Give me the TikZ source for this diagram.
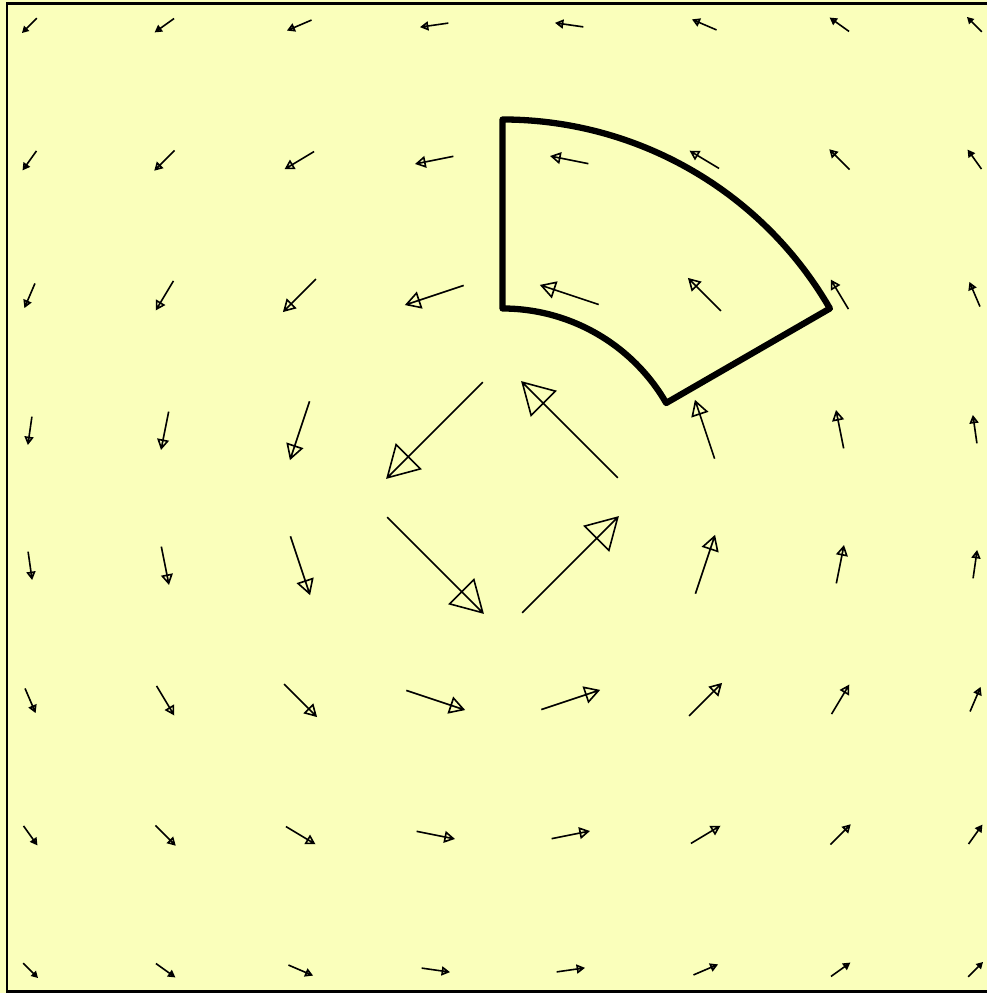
\documentclass[tikz,border=0pt]{standalone}
\definecolor{bg}{RGB}{250,255,187}
\tikzset{arr/.style={line width=1.6pt, line join=miter},
  sector/.style={line width=6.3pt, line join=round},
  frame/.style={line width=2.7pt}}
\begin{document}
\begin{tikzpicture}[x=1pt,y=1pt]
\path[use as bounding box] (0,0) rectangle (987,993);
\clip (0,0) rectangle (987,993);
\fill[bg] (0,0) rectangle (987,993);
\draw[frame] (7,1.5) -- (7,989.5) -- (995,989.5) -- (995,1.5) -- cycle;
\foreach \i in {0,...,7}{\foreach \j in {0,...,7}{
  \pgfmathsetmacro\px{30+135*\i}
  \pgfmathsetmacro\py{968-135*\j}
  \pgfmathsetmacro\a{(\px-502.5)/100}
  \pgfmathsetmacro\b{(\py-495.5)/100}
  \pgfmathsetmacro\vx{-129*\b/(\a*\a+\b*\b)}
  \pgfmathsetmacro\vy{129*\a/(\a*\a+\b*\b)}
  \draw[arr] ({\px-(\vx)/2},{\py-(\vy)/2}) -- ({\px+(\vx)/2},{\py+(\vy)/2})
    ({\px+(\vx)/2},{\py+(\vy)/2}) -- ++({-0.22*(\vx)-0.127*(\vy)},{-0.22*(\vy)+0.127*(\vx)})
    -- ++({0.254*(\vy)},{-0.254*(\vx)}) -- cycle;
}}
\draw[sector] (502.5,684.5) -- (502.5,873.5) arc[start angle=90, end angle=30, radius=378]
  -- ({502.5+189*cos(30)},{495.5+189*sin(30)}) arc[start angle=30, end angle=90, radius=189] -- cycle;
\end{tikzpicture}
\end{document}
